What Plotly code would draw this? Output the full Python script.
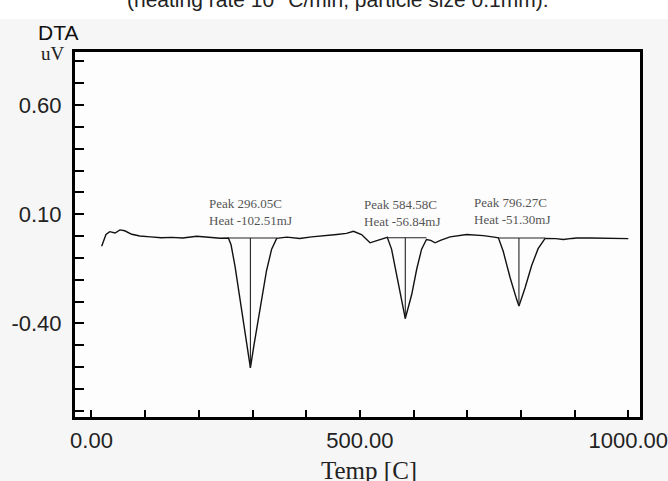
import plotly.graph_objects as go

# DTA trace: temperature (C) and signal (uV)
temp = [19, 27, 34, 44, 53, 62, 75, 90, 110, 130, 150, 170, 196, 215, 240,
        255, 260, 267.5, 280, 289, 296.05, 302.7, 314, 326, 335.6, 345,
        364, 388, 410, 426, 445, 457, 475, 488, 503, 519, 530, 545,
        551, 559, 568.5, 578, 584.58, 596.5, 606, 615, 624,
        632, 640, 650, 668, 699, 730, 750,
        758, 767, 780, 792, 796.27, 807.6, 820, 832, 845,
        865, 879, 895, 904, 930, 960, 978, 1000]
dta = [-0.047, 0.007, 0.020, 0.014, 0.028, 0.024, 0.008, 0.000, -0.004, -0.008, -0.006, -0.009, -0.001, -0.006, -0.010,
       -0.009, -0.040, -0.140, -0.340, -0.490, -0.604, -0.500, -0.330, -0.160, -0.060, -0.011,
       -0.005, -0.011, -0.004, -0.001, 0.003, 0.007, 0.012, 0.022, 0.007, -0.031, -0.022, -0.008,
       -0.006, -0.060, -0.180, -0.300, -0.378, -0.268, -0.150, -0.060, -0.016,
       -0.020, -0.031, -0.020, -0.004, 0.007, 0.002, -0.005,
       -0.008, -0.070, -0.192, -0.290, -0.321, -0.238, -0.135, -0.058, -0.011,
       -0.012, -0.016, -0.011, -0.009, -0.009, -0.010, -0.009, -0.012]

# Peak analysis results
peak_temps = [296.05, 584.58, 796.27]
peak_values = [-0.604, -0.378, -0.321]
peak_heats = [-102.51, -56.84, -51.30]
onset_temps = [255, 551, 758]
end_temps = [345, 624, 845]
base_values = [-0.009, -0.008, -0.009]
label_temps = [215, 503, 708]
label_values = [0.194, 0.186, 0.198]

# Axis ticks
x_tick_vals = [0, 500, 1000]
x_tick_text = ["0.00", "500.00", "1000.00"]
y_tick_vals = [0.60, 0.10, -0.40]
y_tick_text = ["0.60", "0.10", "-0.40"]

fig = go.Figure()

fig.add_trace(go.Scatter(x=temp, y=dta, mode="lines",
                         line=dict(color="#111111", width=1.4), showlegend=False))

for t, v, t0, t1, b in zip(peak_temps, peak_values, onset_temps, end_temps, base_values):
    # integration baseline and peak marker line
    fig.add_trace(go.Scatter(x=[t0, t1], y=[b, b], mode="lines",
                             line=dict(color="#222222", width=1.1), showlegend=False))
    fig.add_trace(go.Scatter(x=[t, t], y=[b, v], mode="lines",
                             line=dict(color="#222222", width=1.1), showlegend=False))

for t, h, lx, ly in zip(peak_temps, peak_heats, label_temps, label_values):
    fig.add_annotation(x=lx, y=ly, xref="x", yref="y", xanchor="left", yanchor="top",
                       text=f"Peak {t:.2f}C<br>Heat {h:.2f}mJ", showarrow=False, align="left",
                       font=dict(family="Liberation Serif", size=13, color="#555555"))

tick_font = dict(family="Liberation Sans", size=22, color="#222222")

fig.update_xaxes(range=[-30.7, 1021.8], tickmode="array", tickvals=x_tick_vals, ticktext=x_tick_text,
                 ticks="inside", ticklen=7, tickwidth=1.5, tickcolor="black",
                 minor=dict(tickmode="linear", tick0=0, dtick=100, ticks="inside", ticklen=7,
                            tickwidth=1.5, tickcolor="black"),
                 showline=True, linecolor="black", linewidth=3, mirror=True,
                 showgrid=False, zeroline=False, tickfont=tick_font, ticklabelstandoff=2,
                 ticklabeloverflow="allow", automargin=False)
fig.update_yaxes(range=[-0.829, 0.843], tickmode="array", tickvals=y_tick_vals, ticktext=y_tick_text,
                 ticks="inside", ticklen=9, tickwidth=2, tickcolor="black",
                 minor=dict(tickmode="linear", tick0=0.1, dtick=0.1, ticks="inside", ticklen=9,
                            tickwidth=2, tickcolor="black"),
                 showline=True, linecolor="black", linewidth=3, mirror=True,
                 showgrid=False, zeroline=False, tickfont=tick_font, ticklabelstandoff=6,
                 ticklabeloverflow="allow", automargin=False)

# header and axis captions
fig.add_annotation(x=0.465, y=1.143, xref="paper", yref="paper", xanchor="center", yanchor="middle",
                   text="(heating rate 10 °C/min, particle size 0.1mm).", showarrow=False,
                   font=dict(family="Liberation Sans", size=21, color="#222222"))
fig.add_annotation(x=0, y=1, xref="paper", yref="paper", xanchor="right", yanchor="bottom",
                   xshift=5, yshift=6, text="DTA", showarrow=False,
                   font=dict(family="Liberation Sans", size=21, color="#111111"))
fig.add_annotation(x=0, y=1, xref="paper", yref="paper", xanchor="right", yanchor="middle",
                   xshift=-8, yshift=-1, text="uV", showarrow=False,
                   font=dict(family="Liberation Serif", size=19, color="#222222"))
fig.add_annotation(x=0.52, y=0, xref="paper", yref="paper", xanchor="center", yanchor="top",
                   yshift=-38, text="Temp [C]", showarrow=False,
                   font=dict(family="Liberation Serif", size=25, color="#222222"))

fig.add_shape(type="rect", xref="paper", yref="paper", x0=-0.2, x1=1.1, y0=1.09, y1=1.2,
              fillcolor="white", line=dict(width=0), layer="below")

fig.update_layout(width=668, height=481, margin=dict(l=75, r=28, t=52, b=64),
                  paper_bgcolor="#f6f6f6", plot_bgcolor="#fdfdfd")

fig.write_html("out.html")
